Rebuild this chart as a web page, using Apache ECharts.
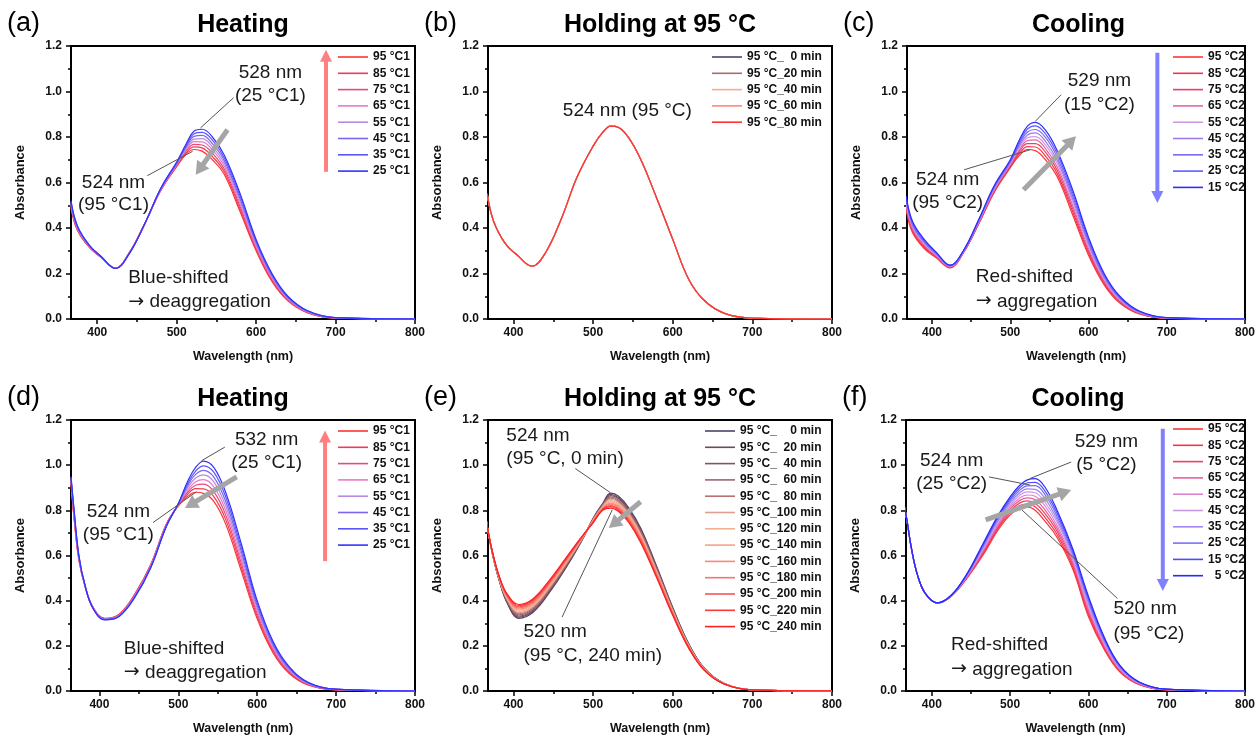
<!DOCTYPE html>
<html>
<head>
<meta charset="utf-8">
<title>UV-vis spectra: heating / holding / cooling</title>
<script src="https://cdn.jsdelivr.net/npm/echarts@6/dist/echarts.min.js"></script>
<style>
  html, body { margin: 0; padding: 0; background: #fff; }
  #main { width: 1258px; height: 736px; }
</style>
</head>
<body>
<div id="main"></div>
<script>
(function () {
  'use strict';

  var FONT = '"Liberation Sans", Arial, Helvetica, sans-serif';

  // ---- wavelength grids (nm) ----
  var WL_TOP = [367, 375, 390, 405, 423, 440, 460, 480, 500, 512, 522, 532, 545, 560, 580, 600, 620, 640, 665, 700, 800];
  var WL_BOT = [364, 368, 374, 382, 392, 407, 425, 445, 465, 485, 500, 512, 522, 532, 545, 560, 580, 600, 620, 640, 665, 700, 800];

  var X_TICKS = [400, 500, 600, 700, 800];
  var X_MINOR = [450, 550, 650, 750];

  // ---- (a) heating, first cycle ----
  var a95 = [0.49, 0.39, 0.315, 0.27, 0.224, 0.29, 0.42, 0.565, 0.67, 0.725, 0.745, 0.738, 0.70, 0.635, 0.47, 0.30, 0.165, 0.08, 0.027, 0.004, 0];
  var a85 = [0.494, 0.393, 0.316, 0.271, 0.224, 0.289, 0.42, 0.566, 0.673, 0.731, 0.757, 0.752, 0.714, 0.647, 0.481, 0.307, 0.17, 0.083, 0.028, 0.004, 0];
  var a75 = [0.499, 0.396, 0.318, 0.271, 0.223, 0.289, 0.42, 0.568, 0.676, 0.738, 0.768, 0.765, 0.729, 0.659, 0.493, 0.314, 0.175, 0.086, 0.03, 0.005, 0];
  var a65 = [0.503, 0.399, 0.319, 0.272, 0.223, 0.288, 0.42, 0.569, 0.679, 0.744, 0.78, 0.779, 0.743, 0.671, 0.504, 0.321, 0.18, 0.089, 0.031, 0.005, 0];
  var a55 = [0.507, 0.401, 0.321, 0.273, 0.223, 0.287, 0.42, 0.571, 0.681, 0.751, 0.791, 0.793, 0.757, 0.684, 0.516, 0.329, 0.185, 0.091, 0.032, 0.005, 0];
  var a45 = [0.511, 0.404, 0.322, 0.274, 0.223, 0.286, 0.42, 0.572, 0.684, 0.757, 0.803, 0.807, 0.771, 0.696, 0.527, 0.336, 0.19, 0.094, 0.033, 0.005, 0];
  var a35 = [0.516, 0.407, 0.324, 0.274, 0.222, 0.286, 0.42, 0.574, 0.687, 0.764, 0.814, 0.82, 0.786, 0.708, 0.539, 0.343, 0.195, 0.097, 0.035, 0.006, 0];
  var a25 = [0.52, 0.41, 0.325, 0.275, 0.222, 0.285, 0.42, 0.575, 0.69, 0.77, 0.826, 0.834, 0.80, 0.72, 0.55, 0.35, 0.20, 0.10, 0.036, 0.006, 0];

  // ---- (b) holding at 95 °C (all five curves overlap) ----
  var b95 = [0.55, 0.43, 0.33, 0.28, 0.232, 0.29, 0.44, 0.625, 0.76, 0.82, 0.848, 0.842, 0.795, 0.70, 0.53, 0.35, 0.175, 0.08, 0.025, 0.004, 0];

  // ---- (c) cooling ----
  var c95 = [0.48, 0.38, 0.31, 0.27, 0.225, 0.29, 0.42, 0.56, 0.665, 0.72, 0.745, 0.74, 0.70, 0.625, 0.455, 0.28, 0.15, 0.07, 0.022, 0.003, 0];
  var c85 = [0.488, 0.386, 0.315, 0.273, 0.227, 0.291, 0.423, 0.564, 0.669, 0.729, 0.758, 0.756, 0.716, 0.639, 0.469, 0.29, 0.156, 0.074, 0.024, 0.003, 0];
  var c75 = [0.495, 0.393, 0.32, 0.276, 0.228, 0.293, 0.425, 0.568, 0.674, 0.738, 0.771, 0.771, 0.733, 0.654, 0.483, 0.30, 0.163, 0.078, 0.025, 0.004, 0];
  var c65 = [0.503, 0.399, 0.325, 0.279, 0.23, 0.294, 0.428, 0.571, 0.678, 0.746, 0.784, 0.787, 0.749, 0.668, 0.496, 0.31, 0.169, 0.081, 0.027, 0.004, 0];
  var c55 = [0.51, 0.405, 0.33, 0.283, 0.231, 0.295, 0.43, 0.575, 0.683, 0.755, 0.797, 0.802, 0.765, 0.683, 0.51, 0.32, 0.175, 0.085, 0.029, 0.005, 0];
  var c45 = [0.518, 0.411, 0.335, 0.286, 0.233, 0.296, 0.433, 0.579, 0.687, 0.764, 0.809, 0.818, 0.781, 0.697, 0.524, 0.33, 0.181, 0.089, 0.03, 0.005, 0];
  var c35 = [0.525, 0.418, 0.34, 0.289, 0.234, 0.298, 0.435, 0.583, 0.691, 0.773, 0.822, 0.833, 0.798, 0.711, 0.538, 0.34, 0.188, 0.093, 0.032, 0.005, 0];
  var c25 = [0.533, 0.424, 0.345, 0.292, 0.236, 0.299, 0.438, 0.586, 0.696, 0.781, 0.835, 0.849, 0.814, 0.726, 0.551, 0.35, 0.194, 0.096, 0.033, 0.006, 0];
  var c15 = [0.54, 0.43, 0.35, 0.295, 0.237, 0.30, 0.44, 0.59, 0.70, 0.79, 0.848, 0.864, 0.83, 0.74, 0.565, 0.36, 0.20, 0.10, 0.035, 0.006, 0];

  // ---- (d) heating, second sample ----
  var d95 = [0.92, 0.76, 0.58, 0.46, 0.37, 0.322, 0.34, 0.43, 0.56, 0.74, 0.82, 0.862, 0.88, 0.875, 0.84, 0.74, 0.53, 0.32, 0.17, 0.08, 0.026, 0.005, 0];
  var d85 = [0.924, 0.766, 0.583, 0.461, 0.369, 0.321, 0.339, 0.428, 0.558, 0.739, 0.821, 0.872, 0.896, 0.895, 0.861, 0.76, 0.547, 0.331, 0.177, 0.084, 0.028, 0.005, 0];
  var d75 = [0.929, 0.771, 0.586, 0.461, 0.369, 0.32, 0.337, 0.426, 0.556, 0.737, 0.823, 0.881, 0.911, 0.916, 0.883, 0.78, 0.564, 0.343, 0.184, 0.089, 0.029, 0.006, 0];
  var d65 = [0.933, 0.777, 0.589, 0.462, 0.368, 0.319, 0.336, 0.424, 0.554, 0.736, 0.824, 0.891, 0.927, 0.936, 0.904, 0.80, 0.581, 0.354, 0.191, 0.093, 0.031, 0.006, 0];
  var d55 = [0.937, 0.783, 0.591, 0.463, 0.367, 0.318, 0.334, 0.421, 0.551, 0.734, 0.826, 0.901, 0.943, 0.957, 0.926, 0.82, 0.599, 0.366, 0.199, 0.097, 0.033, 0.007, 0];
  var d45 = [0.941, 0.789, 0.594, 0.464, 0.366, 0.317, 0.333, 0.419, 0.549, 0.733, 0.827, 0.911, 0.959, 0.977, 0.947, 0.84, 0.616, 0.377, 0.206, 0.101, 0.035, 0.007, 0];
  var d35 = [0.946, 0.794, 0.597, 0.464, 0.366, 0.316, 0.331, 0.417, 0.547, 0.731, 0.829, 0.92, 0.974, 0.997, 0.969, 0.86, 0.633, 0.389, 0.213, 0.106, 0.036, 0.008, 0];
  var d25 = [0.95, 0.80, 0.60, 0.465, 0.365, 0.315, 0.33, 0.415, 0.545, 0.73, 0.83, 0.93, 0.99, 1.018, 0.99, 0.88, 0.65, 0.40, 0.22, 0.11, 0.038, 0.008, 0];

  // ---- (e) holding at 95 °C, 0..240 min ----
  var e0   = [0.8, 0.71, 0.600, 0.49, 0.39, 0.322, 0.35, 0.435, 0.54, 0.66, 0.765, 0.83, 0.876, 0.862, 0.81, 0.72, 0.55, 0.37, 0.21, 0.10, 0.033, 0.005, 0];
  var e20  = [0.8, 0.71, 0.601, 0.492, 0.393, 0.327, 0.355, 0.44, 0.544, 0.662, 0.763, 0.828, 0.871, 0.856, 0.805, 0.715, 0.546, 0.367, 0.208, 0.099, 0.033, 0.005, 0];
  var e40  = [0.8, 0.71, 0.602, 0.493, 0.397, 0.332, 0.36, 0.444, 0.548, 0.663, 0.762, 0.825, 0.865, 0.851, 0.799, 0.709, 0.542, 0.364, 0.207, 0.098, 0.033, 0.005, 0];
  var e60  = [0.8, 0.71, 0.602, 0.495, 0.40, 0.337, 0.365, 0.449, 0.551, 0.665, 0.76, 0.823, 0.86, 0.845, 0.794, 0.704, 0.538, 0.361, 0.205, 0.098, 0.032, 0.005, 0];
  var e80  = [0.8, 0.71, 0.603, 0.497, 0.403, 0.342, 0.37, 0.453, 0.555, 0.667, 0.758, 0.82, 0.854, 0.839, 0.788, 0.698, 0.533, 0.358, 0.203, 0.097, 0.032, 0.005, 0];
  var e100 = [0.8, 0.71, 0.604, 0.498, 0.407, 0.347, 0.375, 0.458, 0.559, 0.668, 0.757, 0.818, 0.849, 0.834, 0.783, 0.693, 0.529, 0.355, 0.202, 0.096, 0.032, 0.005, 0];
  var e120 = [0.8, 0.71, 0.605, 0.50, 0.41, 0.352, 0.38, 0.463, 0.563, 0.67, 0.755, 0.815, 0.843, 0.828, 0.778, 0.688, 0.525, 0.353, 0.20, 0.095, 0.032, 0.005, 0];
  var e140 = [0.8, 0.71, 0.606, 0.502, 0.413, 0.358, 0.385, 0.467, 0.566, 0.672, 0.753, 0.813, 0.838, 0.823, 0.772, 0.682, 0.521, 0.35, 0.198, 0.094, 0.031, 0.005, 0];
  var e160 = [0.8, 0.71, 0.607, 0.503, 0.417, 0.363, 0.39, 0.472, 0.57, 0.673, 0.752, 0.81, 0.832, 0.817, 0.767, 0.677, 0.517, 0.347, 0.197, 0.093, 0.031, 0.005, 0];
  var e180 = [0.8, 0.71, 0.607, 0.505, 0.42, 0.368, 0.395, 0.476, 0.574, 0.675, 0.75, 0.808, 0.827, 0.811, 0.761, 0.671, 0.513, 0.344, 0.195, 0.093, 0.031, 0.005, 0];
  var e200 = [0.8, 0.71, 0.608, 0.507, 0.423, 0.373, 0.40, 0.481, 0.578, 0.677, 0.748, 0.805, 0.821, 0.806, 0.756, 0.666, 0.508, 0.341, 0.193, 0.092, 0.031, 0.005, 0];
  var e220 = [0.8, 0.71, 0.609, 0.508, 0.427, 0.378, 0.405, 0.485, 0.581, 0.678, 0.747, 0.803, 0.816, 0.80, 0.75, 0.66, 0.504, 0.338, 0.192, 0.091, 0.03, 0.005, 0];
  var e240 = [0.8, 0.71, 0.61, 0.51, 0.43, 0.383, 0.41, 0.49, 0.585, 0.68, 0.745, 0.80, 0.81, 0.795, 0.745, 0.655, 0.50, 0.335, 0.19, 0.09, 0.03, 0.005, 0];

  // ---- (f) cooling, second sample ----
  var f95 = [0.83, 0.76, 0.63, 0.51, 0.43, 0.39, 0.42, 0.50, 0.60, 0.715, 0.78, 0.81, 0.815, 0.80, 0.75, 0.68, 0.54, 0.33, 0.185, 0.085, 0.028, 0.005, 0];
  var f85 = [0.83, 0.76, 0.63, 0.51, 0.43, 0.39, 0.421, 0.502, 0.606, 0.722, 0.789, 0.821, 0.828, 0.816, 0.767, 0.693, 0.55, 0.34, 0.191, 0.088, 0.029, 0.005, 0];
  var f75 = [0.83, 0.76, 0.63, 0.51, 0.43, 0.39, 0.421, 0.504, 0.611, 0.729, 0.798, 0.832, 0.842, 0.831, 0.783, 0.707, 0.56, 0.35, 0.197, 0.092, 0.031, 0.006, 0];
  var f65 = [0.83, 0.76, 0.63, 0.51, 0.43, 0.39, 0.422, 0.507, 0.617, 0.737, 0.807, 0.843, 0.855, 0.847, 0.80, 0.72, 0.57, 0.36, 0.203, 0.095, 0.032, 0.006, 0];
  var f55 = [0.83, 0.76, 0.63, 0.51, 0.43, 0.39, 0.422, 0.509, 0.622, 0.744, 0.816, 0.854, 0.868, 0.862, 0.817, 0.733, 0.58, 0.37, 0.209, 0.098, 0.033, 0.006, 0];
  var f45 = [0.83, 0.76, 0.63, 0.51, 0.43, 0.39, 0.423, 0.511, 0.628, 0.751, 0.824, 0.866, 0.882, 0.878, 0.833, 0.747, 0.59, 0.38, 0.216, 0.102, 0.035, 0.007, 0];
  var f35 = [0.83, 0.76, 0.63, 0.51, 0.43, 0.39, 0.423, 0.513, 0.633, 0.758, 0.833, 0.877, 0.895, 0.893, 0.85, 0.76, 0.60, 0.39, 0.222, 0.105, 0.036, 0.007, 0];
  var f25 = [0.83, 0.76, 0.63, 0.51, 0.43, 0.39, 0.424, 0.516, 0.639, 0.766, 0.842, 0.888, 0.908, 0.909, 0.867, 0.773, 0.61, 0.40, 0.228, 0.108, 0.037, 0.007, 0];
  var f15 = [0.83, 0.76, 0.63, 0.51, 0.43, 0.39, 0.424, 0.518, 0.644, 0.773, 0.851, 0.899, 0.922, 0.924, 0.883, 0.787, 0.62, 0.41, 0.234, 0.112, 0.039, 0.008, 0];
  var f5  = [0.83, 0.76, 0.63, 0.51, 0.43, 0.39, 0.425, 0.52, 0.65, 0.78, 0.86, 0.91, 0.935, 0.94, 0.90, 0.80, 0.63, 0.42, 0.24, 0.115, 0.04, 0.008, 0];

  // ---- legend labels ----
  var HEAT_NAMES = ['95 °C1', '85 °C1', '75 °C1', '65 °C1', '55 °C1', '45 °C1', '35 °C1', '25 °C1'];
  var COOL9_NAMES = ['95 °C2', '85 °C2', '75 °C2', '65 °C2', '55 °C2', '45 °C2', '35 °C2', '25 °C2', '15 °C2'];
  var COOL10_NAMES = ['95 °C2 ', '85 °C2 ', '75 °C2 ', '65 °C2 ', '55 °C2 ', '45 °C2 ', '35 °C2 ', '25 °C2 ', '15 °C2 ', '  5 °C2 '];
  var HOLD5_NAMES = ['95 °C_  0 min', '95 °C_20 min', '95 °C_40 min', '95 °C_60 min', '95 °C_80 min'];
  var HOLD13_NAMES = ['95 °C_    0 min', '95 °C_  20 min', '95 °C_  40 min', '95 °C_  60 min', '95 °C_  80 min',
    '95 °C_100 min', '95 °C_120 min', '95 °C_140 min', '95 °C_160 min', '95 °C_180 min',
    '95 °C_200 min', '95 °C_220 min', '95 °C_240 min'];

  // ---- colours ----
  var HEAT8 = ['#ff3333', '#f23a55', '#e64a7a', '#e57ac8', '#b58ae0', '#7a66f0', '#5a55fa', '#3333ff'];
  var COOL9 = ['#ff3333', '#f5334a', '#eb3f66', '#e066aa', '#d199e0', '#a37aeb', '#8066f2', '#5c5cff', '#2e2eff'];
  var COOL10 = ['#ff3333', '#f8334a', '#f04060', '#e5609e', '#e080d0', '#cc99e6', '#a385f0', '#7a70f8', '#4d4dff', '#2929ff'];
  var HOLD5 = ['#4f4066', '#a07070', '#f0b090', '#f88a78', '#ff3333'];
  var HOLD13 = ['#4f4066', '#684a62', '#7c5566', '#9a6870', '#b87272', '#dca08c', '#efb08e', '#f7a385',
    '#f88a78', '#f87272', '#f85555', '#fa3a3a', '#ff2222'];

  var GRAY = '#a5a5a5';
  var LEADER = '#555555';
  var ARROW_GLYPH = '{ar|→} ';

  // annotation anchors are in data units (nm, absorbance)
  var PANELS = [
    {
      letter: '(a)', title: 'Heating', xMin: 367, wl: WL_TOP,
      grid: { left: 71, top: 46, width: 344, height: 273 },
      legend: { left: 338, top: 51 },
      names: HEAT_NAMES, colors: HEAT8,
      values: [a95, a85, a75, a65, a55, a45, a35, a25],
      texts: [['528 nm', 618, 1.083, 'center'], ['(25 °C1)', 618, 0.98, 'center'],
              ['524 nm', 420.5, 0.60, 'center'], ['(95 °C1)', 420.5, 0.50, 'center'],
              ['Blue-shifted', 439, 0.18, 'left'], [ARROW_GLYPH + 'deaggregation', 439, 0.075, 'left']],
      leaders: [[[571.7, 0.973], [530, 0.84]], [[463, 0.63], [520, 0.737]]],
      arrows: [[[564, 0.832], [524, 0.634]]],
      big: { x: 688, from: 0.647, to: 1.184, color: '#ff8080' }
    },
    {
      letter: '(b)', title: 'Holding at 95 °C', xMin: 368, wl: WL_TOP,
      grid: { left: 488, top: 46, width: 344, height: 273 },
      legend: { left: 712, top: 51 },
      names: HOLD5_NAMES, colors: HOLD5,
      values: [b95, b95, b95, b95, b95],
      texts: [['524 nm (95 °C)', 543, 0.916, 'center']],
      leaders: [], arrows: []
    },
    {
      letter: '(c)', title: 'Cooling', xMin: 368, wl: WL_TOP,
      grid: { left: 907, top: 46, width: 343, height: 273 },
      legend: { left: 1173, top: 51 },
      names: COOL9_NAMES, colors: COOL9,
      values: [c95, c85, c75, c65, c55, c45, c35, c25, c15],
      texts: [['529 nm', 614, 1.045, 'center'], ['(15 °C2)', 614, 0.942, 'center'],
              ['524 nm', 420, 0.612, 'center'], ['(95 °C2)', 420, 0.51, 'center'],
              ['Red-shifted', 456, 0.187, 'left'], [ARROW_GLYPH + 'aggregation', 456, 0.077, 'left']],
      leaders: [[[565, 0.986], [532, 0.869]], [[441, 0.656], [525.5, 0.744]]],
      arrows: [[[517, 0.568], [584, 0.803]]],
      big: { x: 688, from: 1.17, to: 0.51, color: '#8080ff' }
    },
    {
      letter: '(d)', title: 'Heating', xMin: 364, wl: WL_BOT,
      grid: { left: 71, top: 420, width: 344, height: 273 },
      legend: { left: 338, top: 425 },
      names: HEAT_NAMES.map(function (n) { return n + ' '; }), colors: HEAT8,
      values: [d95, d85, d75, d65, d55, d45, d35, d25],
      texts: [['532 nm', 612, 1.112, 'center'], ['(25 °C1)', 612, 1.01, 'center'],
              ['524 nm', 424, 0.795, 'center'], ['(95 °C1)', 424, 0.692, 'center'],
              ['Blue-shifted', 431, 0.187, 'left'], [ARROW_GLYPH + 'deaggregation', 431, 0.082, 'left']],
      leaders: [[[559, 1.08], [529.6, 1.02]], [[468, 0.746], [523, 0.882]]],
      arrows: [[[574, 0.948], [508.5, 0.81]]],
      big: { x: 686, from: 0.575, to: 1.153, color: '#ff8080' }
    },
    {
      letter: '(e)', title: 'Holding at 95 °C', xMin: 368, wl: WL_BOT,
      grid: { left: 488, top: 420, width: 344, height: 273 },
      legend: { left: 705, top: 425 },
      names: HOLD13_NAMES, colors: HOLD13,
      values: [e0, e20, e40, e60, e80, e100, e120, e140, e160, e180, e200, e220, e240],
      texts: [['524 nm', 391, 1.131, 'left'], ['(95 °C, 0 min)', 391, 1.029, 'left'],
              ['520 nm', 412.6, 0.261, 'left'], ['(95 °C, 240 min)', 412.6, 0.158, 'left']],
      leaders: [[[477.7, 0.985], [521.8, 0.878]], [[461, 0.327], [524, 0.802]]],
      arrows: [[[559.6, 0.838], [519.7, 0.722]]]
    },
    {
      letter: '(f)', title: 'Cooling', xMin: 367, wl: WL_BOT,
      grid: { left: 906, top: 420, width: 344, height: 273 },
      legend: { left: 1173, top: 423 },
      names: COOL10_NAMES, colors: COOL10,
      values: [f95, f85, f75, f65, f55, f45, f35, f25, f15, f5],
      texts: [['529 nm', 623, 1.102, 'center'], ['(5 °C2)', 623, 1.0, 'center'],
              ['524 nm', 425.3, 1.018, 'center'], ['(25 °C2)', 425.3, 0.916, 'center'],
              ['520 nm', 632, 0.363, 'left'], ['(95 °C2)', 632, 0.253, 'left'],
              ['Red-shifted', 424.5, 0.205, 'left'], [ARROW_GLYPH + 'aggregation', 424.5, 0.095, 'left']],
      leaders: [[[578, 1.014], [525.5, 0.941]], [[473, 0.948], [525.5, 0.912]], [[637, 0.41], [515, 0.802]]],
      arrows: [[[468.7, 0.758], [578, 0.89]]],
      big: { x: 695, from: 1.161, to: 0.443, color: '#8080ff' }
    }
  ];

  var labelText = { fontFamily: FONT, fontWeight: 'bold', fontSize: 12, color: '#111' };

  var grids = [], xAxes = [], yAxes = [], series = [], legends = [];

  PANELS.forEach(function (p, i) {
    grids.push({
      left: p.grid.left, top: p.grid.top, width: p.grid.width, height: p.grid.height,
      show: true, borderColor: '#000', borderWidth: 2, backgroundColor: 'transparent'
    });

    xAxes.push({
      gridIndex: i, type: 'value', position: 'bottom', min: p.xMin, max: 800,
      name: 'Wavelength (nm)', nameLocation: 'middle', nameGap: 31,
      nameTextStyle: { fontFamily: FONT, fontWeight: 'bold', fontSize: 12.5, color: '#111' },
      axisLine: { show: true, onZero: false, lineStyle: { color: '#000', width: 2 } },
      axisTick: { show: true, customValues: X_TICKS, length: 5, lineStyle: { color: '#000', width: 1.5 } },
      axisLabel: Object.assign({ customValues: X_TICKS, margin: 8 }, labelText),
      splitLine: { show: false }
    });
    // minor ticks every 50 nm
    xAxes.push({
      gridIndex: i, type: 'value', position: 'bottom', min: p.xMin, max: 800,
      axisLine: { show: false },
      axisTick: { show: true, customValues: X_MINOR, length: 3, lineStyle: { color: '#000', width: 1.5 } },
      axisLabel: { show: false },
      splitLine: { show: false }
    });

    yAxes.push({
      gridIndex: i, type: 'value', min: 0, max: 1.2, interval: 0.2,
      name: 'Absorbance', nameLocation: 'middle', nameGap: 44,
      nameTextStyle: { fontFamily: FONT, fontWeight: 'bold', fontSize: 13, color: '#111' },
      axisLine: { show: true, onZero: false, lineStyle: { color: '#000', width: 2 } },
      axisTick: { show: true, length: 5, lineStyle: { color: '#000', width: 1.5 } },
      minorTick: { show: true, splitNumber: 2, length: 3, lineStyle: { color: '#000', width: 1.5 } },
      axisLabel: Object.assign({
        margin: 9,
        formatter: function (v) { return Number(v).toFixed(1); }
      }, labelText),
      splitLine: { show: false },
      minorSplitLine: { show: false }
    });

    p.values.forEach(function (vals, k) {
      series.push({
        type: 'line',
        name: p.names[k],
        xAxisIndex: 2 * i,
        yAxisIndex: i,
        data: p.wl.map(function (w, j) { return [w, vals[j]]; }),
        symbol: 'none',
        smooth: 0.4,
        clip: true,
        silent: true,
        lineStyle: { color: p.colors[k], width: 1.2 },
        itemStyle: { color: p.colors[k] }
      });
    });

    legends.push({
      orient: 'vertical',
      left: p.legend.left,
      top: p.legend.top,
      padding: 0,
      data: p.names,
      icon: 'rect',
      itemWidth: 30,
      itemHeight: 1.6,
      itemGap: 4.3,
      selectedMode: false,
      textStyle: { fontFamily: FONT, fontWeight: 'bold', fontSize: 12, color: '#111', lineHeight: 12 }
    });
  });

  var chart = echarts.init(document.getElementById('main'), null, { renderer: 'canvas' });
  chart.setOption({
    animation: false,
    backgroundColor: '#fff',
    grid: grids,
    xAxis: xAxes,
    yAxis: yAxes,
    legend: legends,
    series: series
  });

  function text(str, x, y, size, weight, align, color) {
    return {
      type: 'text', x: x, y: y, silent: true, z: 100,
      style: {
        text: str, fontFamily: FONT, fontSize: size, fontWeight: weight,
        fill: color || '#1a1a1a', align: align, verticalAlign: 'middle',
        rich: { ar: { fontFamily: '"DejaVu Sans"', fontSize: size, fill: color || '#1a1a1a' } }
      }
    };
  }

  function arrow(p0, p1, w, headL, headW, color) {
    var dx = p1[0] - p0[0], dy = p1[1] - p0[1];
    var len = Math.sqrt(dx * dx + dy * dy) || 1;
    var ux = dx / len, uy = dy / len;
    var bx = p1[0] - ux * headL, by = p1[1] - uy * headL;
    var nx = -uy, ny = ux;
    return [
      { type: 'line', silent: true, z: 100,
        shape: { x1: p0[0], y1: p0[1], x2: bx + ux, y2: by + uy },
        style: { stroke: color, lineWidth: w } },
      { type: 'polygon', silent: true, z: 100,
        shape: { points: [[p1[0], p1[1]], [bx + nx * headW, by + ny * headW], [bx - nx * headW, by - ny * headW]] },
        style: { fill: color } }
    ];
  }

  var gfx = [];
  PANELS.forEach(function (p, i) {
    var finder = { xAxisIndex: 2 * i, yAxisIndex: i };
    function px(pt) { return chart.convertToPixel(finder, pt); }

    gfx.push(text(p.title, p.grid.left + p.grid.width / 2, p.grid.top - 21, 25, 'bold', 'center', '#000'));
    gfx.push(text(p.letter, p.grid.left - 64, p.grid.top - 22, 27, 'normal', 'left', '#000'));

    p.texts.forEach(function (t) {
      var q = px([t[1], t[2]]);
      gfx.push(text(t[0], q[0], q[1], 19, 'normal', t[3]));
    });
    p.leaders.forEach(function (l) {
      var a = px(l[0]), b = px(l[1]);
      gfx.push({ type: 'line', silent: true, z: 99,
        shape: { x1: a[0], y1: a[1], x2: b[0], y2: b[1] },
        style: { stroke: LEADER, lineWidth: 1 } });
    });
    p.arrows.forEach(function (ar) {
      gfx = gfx.concat(arrow(px(ar[0]), px(ar[1]), 5, 13, 7.5, GRAY));
    });
    if (p.big) {
      gfx = gfx.concat(arrow(px([p.big.x, p.big.from]), px([p.big.x, p.big.to]), 4, 12, 6, p.big.color));
    }
  });

  chart.setOption({ graphic: { elements: gfx } });
})();
</script>
</body>
</html>
